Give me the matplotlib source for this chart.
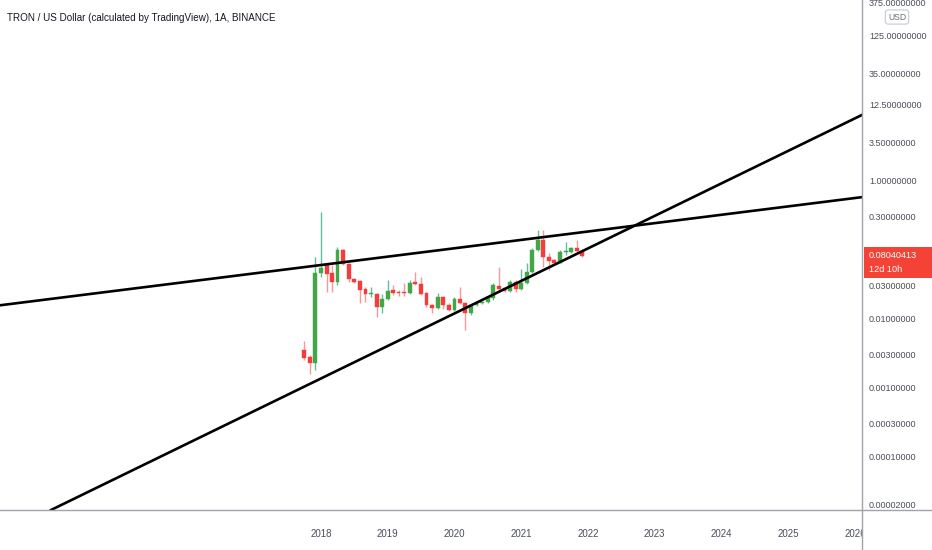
import numpy as np
import pandas as pd
import matplotlib
matplotlib.use("Agg")
import matplotlib.pyplot as plt
import matplotlib.dates as mdates
import matplotlib.transforms as mtransforms
from matplotlib.patches import Rectangle
from matplotlib.lines import Line2D

plt.rcParams['font.family'] = ['Liberation Sans', 'DejaVu Sans']

# monthly candles, Oct 2017 .. Dec 2021
months = pd.date_range("2017-10-01", periods=51, freq="MS")
opens = [0.0034, 0.0027, 0.00223, 0.045, 0.0586, 0.045, 0.0332, 0.097, 0.0606, 0.037,
         0.034, 0.0264, 0.0223, 0.0223, 0.0144, 0.0188, 0.0255, 0.0238, 0.0238, 0.0229,
         0.0333, 0.031, 0.0227, 0.0154, 0.0139, 0.0201, 0.0154, 0.0130, 0.0188, 0.0165,
         0.0118, 0.0154, 0.0165, 0.0168, 0.0195, 0.029, 0.027, 0.0246, 0.0333, 0.0264,
         0.032, 0.0465, 0.097, 0.135, 0.0766, 0.069, 0.0625, 0.090, 0.090, 0.103, 0.094]
highs = [0.0046, 0.0029, 0.0766, 0.34, 0.062, 0.058, 0.107, 0.10, 0.062, 0.038,
         0.035, 0.028, 0.028, 0.0228, 0.0223, 0.0356, 0.030, 0.0255, 0.032, 0.0356,
         0.0465, 0.039, 0.0238, 0.016, 0.0228, 0.021, 0.0165, 0.0201, 0.028, 0.017,
         0.016, 0.017, 0.0178, 0.0211, 0.032, 0.0549, 0.028, 0.0356, 0.0356, 0.051,
         0.0625, 0.103, 0.188, 0.188, 0.087, 0.071, 0.097, 0.126, 0.107, 0.135, 0.099]
lows = [0.0025, 0.00154, 0.00176, 0.039, 0.0238, 0.0238, 0.030, 0.058, 0.033, 0.032,
        0.0165, 0.017, 0.020, 0.0103, 0.0118, 0.018, 0.0218, 0.0209, 0.0209, 0.0223,
        0.030, 0.0218, 0.0144, 0.0118, 0.0135, 0.0135, 0.0126, 0.0126, 0.016, 0.0067,
        0.011, 0.0148, 0.016, 0.0165, 0.018, 0.0255, 0.0238, 0.0238, 0.0238, 0.0255,
        0.031, 0.045, 0.094, 0.055, 0.05, 0.0625, 0.0625, 0.082, 0.087, 0.09, 0.0766]
closes = [0.0026, 0.00223, 0.0449, 0.053, 0.0435, 0.0332, 0.0968, 0.0606, 0.0367, 0.0335,
          0.0255, 0.0223, 0.0232, 0.0144, 0.0188, 0.0246, 0.0229, 0.0229, 0.0229, 0.0321,
          0.031, 0.0223, 0.0154, 0.0139, 0.0201, 0.0154, 0.0130, 0.0188, 0.0165, 0.0118,
          0.0154, 0.0165, 0.0172, 0.0201, 0.030, 0.0264, 0.0246, 0.0333, 0.0264, 0.032,
          0.0465, 0.097, 0.135, 0.0766, 0.067, 0.0625, 0.090, 0.094, 0.103, 0.094, 0.08040413]

# trend lines, each given by two (date, price) anchors
upper_line = [("2018-01-01", 0.0586), ("2023-01-01", 0.237)]
lower_line = [("2018-01-01", 0.00133), ("2023-01-01", 0.302)]

price_ticks = [375, 125, 35, 12.5, 3.5, 1.0, 0.3, 0.1, 0.03, 0.01,
               0.003, 0.001, 0.0003, 0.0001, 0.00002]
year_ticks = list(range(2018, 2027))
title = "TRON / US Dollar (calculated by TradingView), 1A, BINANCE"
countdown = "12d 10h"

up_body, up_wick = "#43a748", "#5fbf9c"
dn_body, dn_wick = "#f23d3d", "#f59a9a"
text_col = "#4a4e59"
axis_col = "#a0a3aa"

W, H = 932, 550
fig = plt.figure(figsize=(W / 100, H / 100), dpi=100)
ax = fig.add_axes([0, 40 / H, 862 / W, 510 / H])

o = np.array(opens); h = np.array(highs); l = np.array(lows); c = np.array(closes)
x = mdates.date2num(months)
up = c >= o
body_w = 21

ax.vlines(x[up], l[up], h[up], color=up_wick, lw=1.0, zorder=2)
ax.vlines(x[~up], l[~up], h[~up], color=dn_wick, lw=1.0, zorder=2)
lo_b = np.minimum(o, c)
hi_b = np.maximum(o, c)
hi_b = np.maximum(hi_b, lo_b * 1.02)
ax.bar(x[up], hi_b[up] - lo_b[up], bottom=lo_b[up], width=body_w,
       color=up_body, edgecolor=up_body, lw=0.3, zorder=3)
ax.bar(x[~up], hi_b[~up] - lo_b[~up], bottom=lo_b[~up], width=body_w,
       color=dn_body, edgecolor=dn_body, lw=0.3, zorder=3)

ax.set_yscale("log")
for line in (upper_line, lower_line):
    (d1, p1), (d2, p2) = line
    ax.axline((mdates.datestr2num(d1), p1), (mdates.datestr2num(d2), p2),
              color="black", lw=1.9, zorder=4)

ref = pd.Timestamp("2018-01-01")
ax.set_xlim(mdates.date2num(ref - pd.Timedelta(days=1756.5)),
            mdates.date2num(ref + pd.Timedelta(days=2960)))
ax.set_ylim(10 ** (-330 / 69), 10 ** (180 / 69))

ax.set_xticks([mdates.datestr2num(f"{y}-01-01") for y in year_ticks])
ax.set_xticklabels([str(y) for y in year_ticks])
ax.yaxis.tick_right()
ax.set_yticks(price_ticks)
ax.set_yticklabels([f"{t:.8f}" for t in price_ticks])
ax.minorticks_off()
ax.tick_params(axis="y", length=0, pad=5, labelsize=6.5, labelcolor=text_col)
ax.tick_params(axis="x", length=0, pad=14, labelsize=7.0, labelcolor=text_col)

for s in ("top", "left", "right", "bottom"):
    ax.spines[s].set_visible(False)

# cover the part of the x labels that runs under the price scale
fig.add_artist(Rectangle((862 / W, 0), 70 / W, 40 / H, transform=fig.transFigure,
                         facecolor="white", edgecolor="none", zorder=20))
fig.add_artist(Line2D([862 / W, 862 / W], [0, 1], transform=fig.transFigure,
                      color=axis_col, lw=1.0, zorder=21))
fig.add_artist(Line2D([0, 1], [40 / H, 40 / H], transform=fig.transFigure,
                      color=axis_col, lw=1.0, zorder=21))

fig.text(7 / W, 1 - 18 / H, title, ha="left", va="center", fontsize=7.1, color="#131722")

fig.text(897 / W, 1 - 17 / H, "USD", ha="center", va="center", fontsize=6.2, color="#6a6d78",
         bbox=dict(boxstyle="round,pad=0.3,rounding_size=0.3", fc="white", ec="#c8cad0", lw=0.8))

# last price label
last = closes[-1]
blend = mtransforms.blended_transform_factory(fig.transFigure, ax.transData)
box_lo = last * 10 ** (-22 / 69)
box_hi = last * 10 ** (9 / 69)
fig.add_artist(Rectangle((864 / W, box_lo), 68 / W, box_hi - box_lo, transform=blend,
                         facecolor="#f44336", edgecolor="none", zorder=22))
fig.add_artist(plt.Text(869 / W, last, f"{last:.8f}", transform=blend, ha="left",
                        va="center", fontsize=6.6, color="white", zorder=23))
below = mtransforms.offset_copy(blend, fig=fig, y=-14, units="dots")
fig.add_artist(plt.Text(869 / W, last, countdown, transform=below, ha="left",
                        va="center", fontsize=6.6, color="white", zorder=23))

fig.savefig("out.png", dpi=100, facecolor="white")
